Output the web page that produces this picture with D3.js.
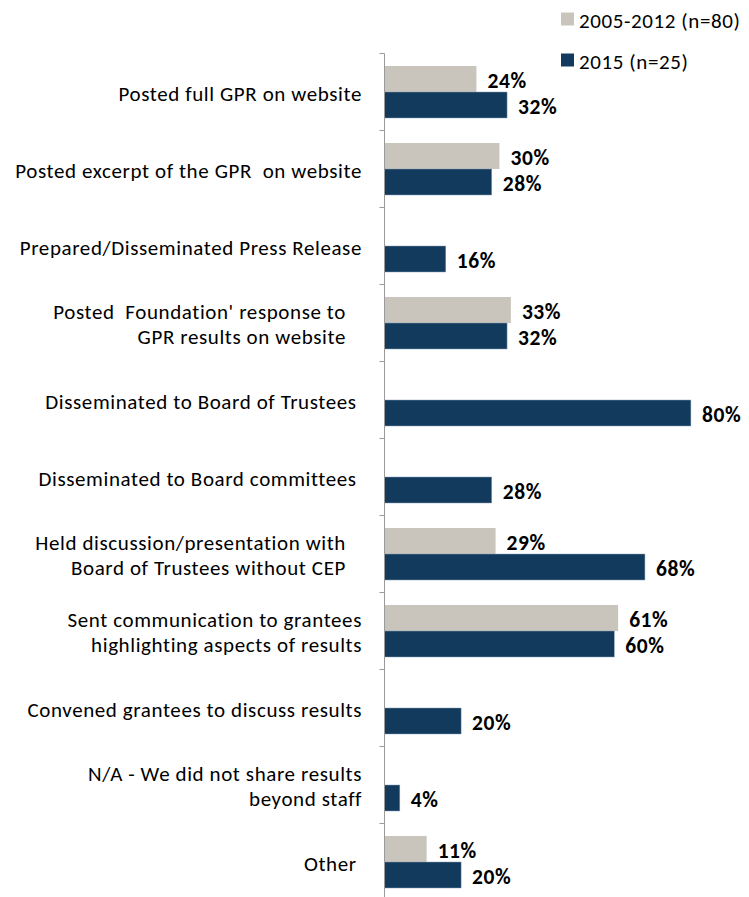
<!DOCTYPE html>
<html>
<head>
<meta charset="utf-8">
<script src="https://cdn.jsdelivr.net/npm/d3@7"></script>
<style>
  html, body { margin: 0; padding: 0; background: #fff; }
  svg { display: block; }
  text { font-family: Carlito, Calibri, Lato, "Open Sans", sans-serif; }
</style>
</head>
<body>
<svg id="chart" width="749" height="897"></svg>
<script>
// Category labels (each entry is the list of lines shown for one row)
const categories = [
  ["Posted full GPR on website"],
  ["Posted excerpt of the GPR  on website"],
  ["Prepared/Disseminated Press Release"],
  ["Posted  Foundation' response to   ", "GPR results on website   "],
  ["Disseminated to Board of Trustees "],
  ["Disseminated to Board committees "],
  ["Held discussion/presentation with   ", "Board of Trustees without CEP   "],
  ["Sent communication to grantees", "highlighting aspects of results"],
  ["Convened grantees to discuss results"],
  ["N/A - We did not share results", "beyond staff"],
  ["Other "]
];

const seriesNames = ["2005-2012 (n=80)", "2015 (n=25)"];

// Share of foundations, percent (null = not asked in that period)
const values2005_2012 = [24, 30, null, 33, null, null, 29, 61, null, null, 11];
const values2015      = [32, 28, 16, 32, 80, 28, 68, 60, 20, 4, 20];

const colors = ["#c9c5bd", "#113a5c"];

const svg = d3.select("#chart");
const keys = categories.map((d, i) => i);
const seriesValues = [values2005_2012, values2015];

const y = d3.scaleBand().domain(keys).range([53.5, 900.5]).paddingInner(0);
const ySub = d3.scaleBand().domain([0, 1]).range([12.5, y.bandwidth() - 12.5]).padding(0);
const x = d3.scaleLinear().domain([0, 100]).range([384.5, 767.5]);

// Bars and value labels
keys.forEach(i => {
  const g = svg.append("g").attr("transform", `translate(0,${y(i)})`);
  seriesValues.forEach((vals, s) => {
    const v = vals[i];
    if (v == null) return;
    g.append("rect")
      .attr("x", x(0))
      .attr("y", ySub(s))
      .attr("width", x(v) - x(0))
      .attr("height", ySub.bandwidth())
      .attr("fill", colors[s])
      .attr("stroke", s === 1 ? "#8aa3b8" : "none")
      .attr("stroke-width", 0.5);
    g.append("text")
      .attr("x", x(v) + 11)
      .attr("y", ySub(s) + ySub.bandwidth() / 2 + 1.5)
      .attr("dominant-baseline", "central")
      .attr("font-size", 21.5)
      .attr("font-weight", "bold")
      .attr("letter-spacing", 0.6)
      .attr("fill", "#000")
      .text(v + "%");
  });
});

// Category axis line with ticks at the row boundaries
const axisX = 384.5;
svg.append("line")
  .attr("x1", axisX).attr("x2", axisX)
  .attr("y1", y.range()[0]).attr("y2", y.range()[1])
  .attr("stroke", "#9a9a9a").attr("stroke-width", 1);
const edges = keys.map(k => y(k)).concat([y.range()[1]]);
svg.selectAll("line.tick").data(edges).join("line")
  .attr("class", "tick")
  .attr("x1", axisX - 5).attr("x2", axisX)
  .attr("y1", d => d).attr("y2", d => d)
  .attr("stroke", "#9a9a9a").attr("stroke-width", 1);

// Category labels, right aligned
const lineH = 25;
keys.forEach(i => {
  const lines = categories[i];
  const cy = y(i) + y.bandwidth() / 2 + 1.5;
  const t = svg.append("text")
    .attr("text-anchor", "end")
    .attr("font-size", 21)
    .attr("letter-spacing", 0.6)
    .attr("fill", "#000")
    .style("white-space", "pre")
    .attr("xml:space", "preserve");
  lines.forEach((ln, j) => {
    t.append("tspan")
      .attr("x", 362)
      .attr("y", cy + (j - (lines.length - 1) / 2) * lineH)
      .attr("dominant-baseline", "central")
      .text(ln);
  });
});

// Legend
const legend = svg.append("g");
seriesNames.forEach((name, s) => {
  const ly = 19 + s * 41;
  legend.append("rect")
    .attr("x", 561).attr("y", ly - 6.5)
    .attr("width", 13).attr("height", 13)
    .attr("fill", colors[s]);
  legend.append("text")
    .attr("x", 579).attr("y", ly + 1.5)
    .attr("dominant-baseline", "central")
    .attr("font-size", 21)
    .attr("letter-spacing", 0.6)
    .attr("fill", "#000")
    .text(name);
});
</script>
</body>
</html>
